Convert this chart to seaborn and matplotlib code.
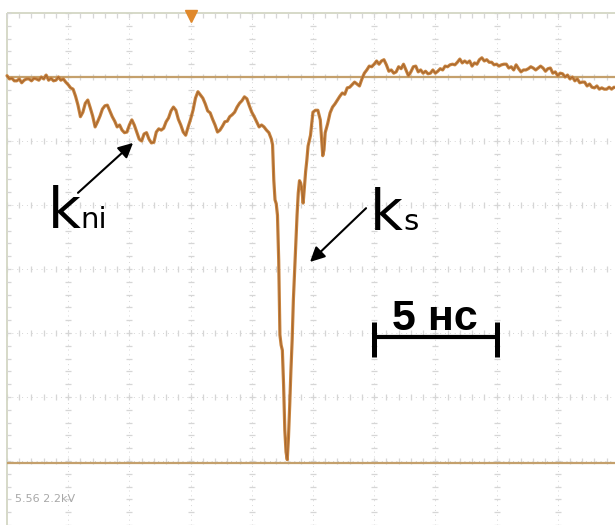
import numpy as np
import pandas as pd
import matplotlib
matplotlib.use("Agg")
import matplotlib.pyplot as plt
import seaborn as sns

# ---- oscillogram samples: time in ns, signal in screen divisions ----
time_ns = [
    0.0, 0.1, 0.2, 0.3, 0.4, 0.5, 0.6, 0.7, 0.8, 0.9,
    1.0, 1.1, 1.2, 1.3, 1.4, 1.5, 1.6, 1.7, 1.8, 1.9,
    2.0, 2.1, 2.2, 2.3, 2.4, 2.5, 2.6, 2.7, 2.8, 2.9,
    3.0, 3.1, 3.2, 3.3, 3.4, 3.5, 3.6, 3.7, 3.8, 3.9,
    4.0, 4.1, 4.2, 4.3, 4.4, 4.5, 4.6, 4.7, 4.8, 4.9,
    5.0, 5.1, 5.2, 5.3, 5.4, 5.5, 5.6, 5.7, 5.8, 5.9,
    6.0, 6.1, 6.2, 6.3, 6.4, 6.5, 6.6, 6.7, 6.8, 6.9,
    7.0, 7.1, 7.2, 7.3, 7.4, 7.5, 7.6, 7.7, 7.8, 7.9,
    8.0, 8.1, 8.2, 8.3, 8.4, 8.5, 8.6, 8.7, 8.8, 8.9,
    9.0, 9.1, 9.2, 9.3, 9.4, 9.5, 9.6, 9.7, 9.8, 9.9,
    10.0, 10.1, 10.2, 10.3, 10.4, 10.5, 10.6, 10.7, 10.8,
    10.85, 10.90, 10.95, 11.00, 11.05, 11.10, 11.15, 11.20, 11.25, 11.30,
    11.35, 11.40, 11.45, 11.50, 11.55, 11.60, 11.65, 11.70, 11.75, 11.80,
    11.85, 11.90, 11.95, 12.00, 12.05, 12.10, 12.15, 12.20, 12.25, 12.30,
    12.40, 12.50, 12.60, 12.70, 12.80, 12.85, 12.90, 12.95, 13.00,
    13.1, 13.2, 13.3, 13.4, 13.5, 13.6, 13.7, 13.8, 13.9,
    14.0, 14.1, 14.2, 14.3, 14.4, 14.5, 14.6, 14.7, 14.8, 14.9,
    15.0, 15.1, 15.2, 15.3, 15.4, 15.5, 15.6, 15.7, 15.8, 15.9,
    16.0, 16.1, 16.2, 16.3, 16.4, 16.5, 16.6, 16.7, 16.8, 16.9,
    17.0, 17.1, 17.2, 17.3, 17.4, 17.5, 17.6, 17.7, 17.8, 17.9,
    18.0, 18.1, 18.2, 18.3, 18.4, 18.5, 18.6, 18.7, 18.8, 18.9,
    19.0, 19.1, 19.2, 19.3, 19.4, 19.5, 19.6, 19.7, 19.8, 19.9,
    20.0, 20.1, 20.2, 20.3, 20.4, 20.5, 20.6, 20.7, 20.8, 20.9,
    21.0, 21.1, 21.2, 21.3, 21.4, 21.5, 21.6, 21.7, 21.8, 21.9,
    22.0, 22.1, 22.2, 22.3, 22.4, 22.5, 22.6, 22.7, 22.8, 22.9,
    23.0, 23.1, 23.2, 23.3, 23.4, 23.5, 23.6, 23.7, 23.8, 23.9,
    24.0, 24.1, 24.2, 24.3, 24.4, 24.5, 24.6, 24.7, 24.8, 24.9,
]

signal_div = [
    3.02, 2.97, 2.98, 2.94, 2.94, 2.97, 2.91, 2.95, 2.97, 2.97,
    2.94, 2.98, 2.97, 2.95, 3.00, 2.97, 3.03, 2.95, 2.98, 2.94,
    2.95, 3.00, 2.95, 2.97, 2.92, 2.88, 2.83, 2.81, 2.70, 2.56,
    2.38, 2.45, 2.59, 2.64, 2.52, 2.39, 2.22, 2.30, 2.39, 2.50,
    2.55, 2.56, 2.47, 2.38, 2.31, 2.22, 2.25, 2.17, 2.13, 2.14,
    2.25, 2.33, 2.25, 2.14, 2.03, 2.00, 2.11, 2.13, 2.03, 1.97,
    1.98, 2.14, 2.19, 2.17, 2.20, 2.30, 2.36, 2.47, 2.53, 2.48,
    2.34, 2.25, 2.14, 2.09, 2.22, 2.34, 2.48, 2.67, 2.77, 2.72,
    2.67, 2.58, 2.47, 2.44, 2.34, 2.25, 2.14, 2.17, 2.23, 2.30,
    2.31, 2.38, 2.41, 2.45, 2.53, 2.59, 2.63, 2.69, 2.66, 2.55,
    2.45, 2.38, 2.30, 2.22, 2.25, 2.22, 2.17, 2.13, 2.03,
    1.94, 1.39, 1.08, 1.02, 0.84, 0.14, -1.03, -1.19, -1.27, -1.81,
    -2.52, -2.86, -2.98, -2.63, -2.13, -1.58, -1.11, -0.48, -0.05, 0.38,
    0.84, 1.19, 1.38, 1.34, 1.23, 1.03, 1.27, 1.52, 1.70, 1.92,
    2.09, 2.45, 2.48, 2.48, 2.33, 2.05, 1.77, 1.86, 2.13,
    2.27, 2.44, 2.53, 2.58, 2.64, 2.70, 2.75, 2.73, 2.83,
    2.84, 2.88, 2.92, 2.89, 2.86, 2.97, 3.06, 3.11, 3.17, 3.16,
    3.20, 3.25, 3.20, 3.25, 3.27, 3.19, 3.09, 3.11, 3.06, 3.08,
    3.16, 3.13, 3.20, 3.11, 3.02, 3.08, 3.16, 3.17, 3.08, 3.11,
    3.06, 3.09, 3.05, 3.06, 3.11, 3.06, 3.09, 3.13, 3.11, 3.17,
    3.16, 3.19, 3.20, 3.19, 3.23, 3.28, 3.22, 3.25, 3.22, 3.25,
    3.17, 3.22, 3.20, 3.27, 3.30, 3.25, 3.27, 3.23, 3.23, 3.19,
    3.20, 3.17, 3.19, 3.20, 3.20, 3.14, 3.16, 3.11, 3.19, 3.13,
    3.08, 3.11, 3.11, 3.13, 3.16, 3.14, 3.11, 3.14, 3.17, 3.14,
    3.09, 3.13, 3.14, 3.06, 3.08, 3.02, 3.06, 3.05, 3.00, 3.03,
    2.97, 3.00, 2.94, 2.97, 2.91, 2.92, 2.92, 2.86, 2.89, 2.84,
    2.83, 2.86, 2.81, 2.83, 2.81, 2.81, 2.84, 2.81, 2.84, 2.83,
]

cursor_levels = [3.0, -3.03]       # horizontal cursors, div
trigger_time = 7.5                 # ns
ns_per_div = 2.5
scale_bar_ns = 5.0
scale_bar_label = "5 нс"
readout_text = "5.56 2.2kV"

# ---- style ----
sns.set_style("white")
plt.rcParams["font.family"] = ["DejaVu Sans"]
plt.rcParams["text.color"] = "black"

TRACE = "#c8843f"
TRACE_DARK = "#9a5c2a"
CURSOR = "#c4a06c"
GRID = "#d6d6d6"
FRAME = "#d3d7c4"

fig = plt.figure(figsize=(6.15, 5.25), dpi=100)
ax = fig.add_axes([0, 0, 1, 1])
ax.set_axis_off()

x_lo, x_hi = -0.286, 24.84
y_lo, y_hi = -4.0, 4.203

# ---- graticule ----
major_x = np.arange(1, 10) * ns_per_div
major_y = np.arange(-3, 4)
minor_x = np.arange(0, 25.01, ns_per_div / 5)
minor_y = np.arange(-4, 4.001, 0.2)

for gx in major_x:
    ax.vlines(gx, y_lo, 4.0, color=GRID, lw=0.7, linestyles=(0, (1, 4)), zorder=1)
    ax.plot(np.full_like(minor_y, gx), minor_y, ls="none", marker="_",
            ms=4, mew=0.9, color=GRID, zorder=1)
for gy in major_y:
    ax.hlines(gy, 0, x_hi, color=GRID, lw=0.7, linestyles=(0, (1, 4)), zorder=1)
    ax.plot(minor_x, np.full_like(minor_x, gy), ls="none", marker="|",
            ms=4, mew=0.9, color=GRID, zorder=1)

# frame (top and left edges of the screen) with minor ticks
ax.hlines(4.0, 0, x_hi, color=FRAME, lw=1.3, zorder=2)
ax.vlines(0, y_lo, 4.0, color=FRAME, lw=1.3, zorder=2)
ax.vlines(minor_x, 4.0 - 0.08, 4.0, color=GRID, lw=0.9, zorder=2)
ax.hlines(minor_y, 0, 0.18, color=GRID, lw=0.9, zorder=2)

# cursors
for lvl in cursor_levels:
    ax.hlines(lvl, 0, x_hi, color=CURSOR, lw=1.6, zorder=3)

# trigger marker
ax.plot([trigger_time], [3.95], marker="v", ms=8, color="#e0892c",
        mec="#e0892c", zorder=4)

# ---- signal trace ----
df = pd.DataFrame({"t": time_ns, "v": signal_div})
sns.lineplot(data=df, x="t", y="v", ax=ax, color=TRACE, lw=2.3,
             sort=False, zorder=5, legend=False)
sns.lineplot(data=df, x="t", y="v", ax=ax, color=TRACE_DARK, lw=0.7,
             alpha=0.75, sort=False, zorder=6, legend=False)

# ---- labels ----
ax.text(1.67, 0.64, "k", fontsize=41, ha="left", va="baseline", zorder=7)
ax.text(3.0, 0.64, "ni", fontsize=21, ha="left", va="baseline", zorder=7)
ax.annotate("", xy=(5.15, 1.97), xytext=(2.90, 1.19),
            arrowprops=dict(arrowstyle="-|>", color="black", lw=1.5,
                            mutation_scale=22, shrinkA=0, shrinkB=0),
            zorder=7)

ax.text(14.83, 0.61, "k", fontsize=41, ha="left", va="baseline", zorder=7)
ax.text(16.2, 0.61, "s", fontsize=21, ha="left", va="baseline", zorder=7)
ax.annotate("", xy=(12.38, 0.11), xytext=(14.67, 0.95),
            arrowprops=dict(arrowstyle="-|>", color="black", lw=1.5,
                            mutation_scale=22, shrinkA=0, shrinkB=0),
            zorder=7)

# time scale bar
bar_x0 = 15.0
bar_y = -1.06
ax.hlines(bar_y, bar_x0, bar_x0 + scale_bar_ns, color="black", lw=3, zorder=7)
ax.vlines([bar_x0, bar_x0 + scale_bar_ns], bar_y - 0.32, bar_y + 0.23,
          color="black", lw=3.6, zorder=7)
ax.text(bar_x0 + scale_bar_ns / 2, -0.95, scale_bar_label, fontsize=31,
        fontweight="bold", family=["Liberation Sans", "DejaVu Sans"],
        ha="center", va="baseline", zorder=7)

# channel readout
ax.text(0.33, -3.59, readout_text, fontsize=8, color="#a8a8a8",
        ha="left", va="center", zorder=7)

ax.set_xlim(x_lo, x_hi)
ax.set_ylim(y_lo, y_hi)

fig.savefig("out.png", dpi=100)
